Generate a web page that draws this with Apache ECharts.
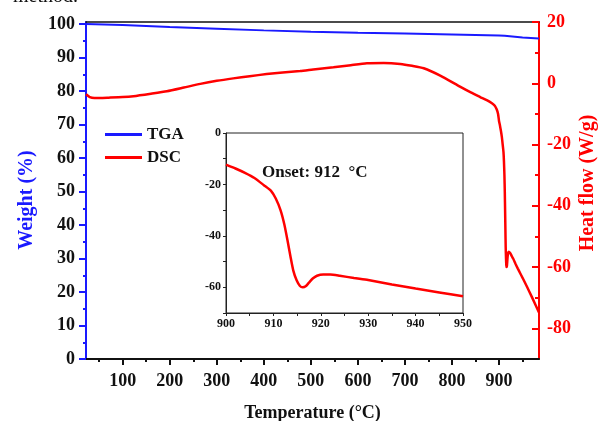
<!DOCTYPE html>
<html>
<head>
<meta charset="utf-8">
<script src="https://cdn.jsdelivr.net/npm/echarts@6/dist/echarts.min.js"></script>
<style>
  html, body { margin: 0; padding: 0; background: #ffffff; }
  #chart { width: 598px; height: 421px; }
</style>
</head>
<body>
<div id="chart"></div>
<script>
// ---- TGA: weight loss vs temperature ----
const tgaTemp   = [22, 100, 200, 300, 400, 500, 600, 700, 800, 900, 912, 916, 950, 985];
const tgaWeight = [100.0, 99.7, 99.1, 98.6, 98.1, 97.7, 97.4, 97.2, 96.9, 96.6, 96.5, 96.2, 96.0, 95.7];

// ---- DSC: heat flow, full range below the melting event ----
const dscTemp = [22, 30, 40, 52, 70, 100, 123, 160, 194, 230, 265, 300, 335, 370, 406, 440, 477,
                 510, 548, 585, 619, 655, 690, 715, 740, 775, 818, 840, 860, 875, 885, 891, 895, 898];
const dscFlow = [-3.6, -4.5, -4.8, -4.8, -4.7, -4.5, -4.2, -3.4, -2.6, -1.4, -0.2, 0.8, 1.6, 2.3, 3.0, 3.5, 4.0,
                 4.6, 5.2, 5.9, 6.5, 6.6, 6.3, 5.7, 4.9, 2.5, -1.2, -3.0, -4.5, -5.6, -6.5, -7.3, -8.5, -10.0];

// ---- DSC detail around the endothermic peak (900-950 °C) ----
const peakTemp = [900, 902, 904, 906, 908, 909.5, 910.5, 911.5, 912.3, 913, 913.6, 914.2, 914.9, 915.6,
                  916.2, 916.8, 917.5, 918.3, 919.2, 920.5, 922, 924, 927, 930, 935, 940, 945, 950];
const peakFlow = [-12.3, -13.8, -15.5, -17.5, -20.3, -22.5, -25.5, -30, -35.5, -42, -48, -53.5, -57.3, -59.5,
                  -60, -59.6, -58.2, -56.6, -55.5, -55, -55, -55.5, -56.4, -57.2, -58.9, -60.5, -62, -63.5];

// ---- DSC tail after the peak ----
const tailTemp = [960, 970, 985];
const tailFlow = [-66.6, -69.8, -74.8];

// ---- axis tick labels ----
const tempLabels   = [100, 200, 300, 400, 500, 600, 700, 800, 900];
const tempMinor    = [50, 150, 250, 350, 450, 550, 650, 750, 850, 950];
const weightLabels = [0, 10, 20, 30, 40, 50, 60, 70, 80, 90, 100];
const weightMinor  = [5, 15, 25, 35, 45, 55, 65, 75, 85, 95];
const flowLabels   = [-80, -60, -40, -20, 0, 20];
const flowMinor    = [-70, -50, -30, -10, 10];

const zip = (xs, ys) => xs.map((x, i) => [x, ys[i]]);

const tgaData  = zip(tgaTemp, tgaWeight);
const dscData  = zip(dscTemp, dscFlow).concat(zip(peakTemp, peakFlow), zip(tailTemp, tailFlow));
const peakData = zip(peakTemp, peakFlow);

const SERIF = 'Liberation Serif, Times New Roman, serif';
const BLUE = '#1a1aff';
const RED = '#ff0000';
const INK = '#111111';

const chart = echarts.init(document.getElementById('chart'), null, { renderer: 'canvas' });

const hidden = { axisLine: { show: false, onZero: false }, axisLabel: { show: false }, splitLine: { show: false } };

chart.setOption({
  backgroundColor: '#ffffff',
  animation: false,
  grid: [
    { left: 86, right: 59, top: 22, bottom: 62, outerBoundsMode: 'none', containLabel: false },
    { left: 226, top: 133, width: 237, height: 180, show: true, outerBoundsMode: 'none',
      containLabel: false, borderColor: '#222', borderWidth: 1, backgroundColor: 'rgba(255,255,255,0)' }
  ],
  legend: {
    data: ['TGA', 'DSC'],
    orient: 'vertical',
    left: 100, top: 121,
    itemWidth: 37, itemHeight: 3, itemGap: 6,
    icon: 'rect',
    textStyle: { fontFamily: SERIF, fontWeight: 'bold', fontSize: 17, color: INK }
  },
  xAxis: [
    { // main temperature axis
      gridIndex: 0, type: 'value', min: 22, max: 985,
      name: 'Temperature (\u00b0C)', nameLocation: 'middle', nameGap: 45,
      nameTextStyle: { fontFamily: SERIF, fontWeight: 'bold', fontSize: 18, color: INK },
      axisLine: { onZero: false, lineStyle: { color: INK, width: 2 } },
      axisTick: { customValues: tempLabels, length: 6, lineStyle: { color: INK, width: 2 } },
      axisLabel: { customValues: tempLabels, margin: 13, fontFamily: SERIF, fontWeight: 'bold',
                   fontSize: 18, color: INK },
      splitLine: { show: false }
    },
    Object.assign({ // minor ticks
      gridIndex: 0, type: 'value', min: 22, max: 985, position: 'bottom',
      axisTick: { customValues: tempMinor, length: 3, lineStyle: { color: INK, width: 2 } }
    }, hidden),
    { // top frame
      gridIndex: 0, type: 'value', min: 22, max: 985, position: 'top',
      axisLine: { show: true, onZero: false, lineStyle: { color: INK, width: 1.5 } },
      axisTick: { show: false }, axisLabel: { show: false }, splitLine: { show: false }
    },
    { // inset temperature axis
      gridIndex: 1, type: 'value', min: 900, max: 950, interval: 5,
      axisLine: { onZero: false, lineStyle: { color: '#222', width: 1 } },
      axisTick: { length: 3, lineStyle: { color: '#222', width: 1 } },
      axisLabel: { margin: 5, fontFamily: SERIF, fontWeight: 'bold', fontSize: 12, color: INK,
                   formatter: v => (v % 10 === 0 ? String(v) : '') },
      splitLine: { show: false }
    }
  ],
  yAxis: [
    { // weight
      gridIndex: 0, type: 'value', min: 0, max: 100.6, position: 'left',
      axisLine: { show: true, onZero: false, lineStyle: { color: BLUE, width: 2 } },
      axisTick: { customValues: weightLabels, length: 7, lineStyle: { color: BLUE, width: 2 } },
      axisLabel: { customValues: weightLabels, margin: 11, fontFamily: SERIF, fontWeight: 'bold',
                   fontSize: 18, color: INK },
      splitLine: { show: false }
    },
    Object.assign({
      gridIndex: 0, type: 'value', min: 0, max: 100.6, position: 'left',
      axisTick: { customValues: weightMinor, length: 3, lineStyle: { color: BLUE, width: 2 } }
    }, hidden),
    { // heat flow
      gridIndex: 0, type: 'value', min: -90, max: 20, position: 'right',
      axisLine: { show: true, onZero: false, lineStyle: { color: RED, width: 2 } },
      axisTick: { customValues: flowLabels, inside: true, length: 7, lineStyle: { color: RED, width: 2 } },
      axisLabel: { customValues: flowLabels, margin: 8, fontFamily: SERIF, fontWeight: 'bold',
                   fontSize: 18, color: RED },
      splitLine: { show: false }
    },
    Object.assign({
      gridIndex: 0, type: 'value', min: -90, max: 20, position: 'right',
      axisTick: { customValues: flowMinor, inside: true, length: 4, lineStyle: { color: RED, width: 2 } }
    }, hidden),
    { // inset heat flow
      gridIndex: 1, type: 'value', min: -70, max: 0, interval: 10,
      axisLine: { show: true, onZero: false, lineStyle: { color: '#222', width: 1 } },
      axisTick: { length: 3, lineStyle: { color: '#222', width: 1 } },
      axisLabel: { margin: 5, fontFamily: SERIF, fontWeight: 'bold', fontSize: 12, color: INK,
                   formatter: v => (v % 20 === 0 ? String(v) : '') },
      splitLine: { show: false }
    }
  ],
  series: [
    { name: 'TGA', type: 'line', xAxisIndex: 0, yAxisIndex: 0, data: tgaData,
      showSymbol: false, lineStyle: { color: BLUE, width: 2 }, itemStyle: { color: BLUE } },
    { name: 'DSC', type: 'line', xAxisIndex: 0, yAxisIndex: 2, data: dscData,
      showSymbol: false, smooth: 0.2,
      lineStyle: { color: RED, width: 2.5 }, itemStyle: { color: RED } },
    { name: 'DSC peak', type: 'line', xAxisIndex: 3, yAxisIndex: 4, data: peakData,
      showSymbol: false, smooth: 0.2,
      lineStyle: { color: RED, width: 2.5 }, itemStyle: { color: RED } }
  ],
  graphic: [
    { type: 'text', left: 13, top: -13,
      style: { text: 'method.', font: '20px ' + SERIF, fill: INK } },
    { type: 'text', x: 27, y: 200, rotation: Math.PI / 2,
      style: { text: 'Weight (%)', font: 'bold 20px ' + SERIF, fill: BLUE,
               align: 'center', verticalAlign: 'middle' } },
    { type: 'text', x: 588, y: 183, rotation: Math.PI / 2,
      style: { text: 'Heat flow (W/g)', font: 'bold 20px ' + SERIF, fill: RED,
               align: 'center', verticalAlign: 'middle' } },
    { type: 'text', x: 262, y: 173,
      style: { text: 'Onset: 912  \u00b0C', font: 'bold 17px ' + SERIF, fill: INK,
               align: 'left', verticalAlign: 'middle' } }
  ]
});
</script>
</body>
</html>
